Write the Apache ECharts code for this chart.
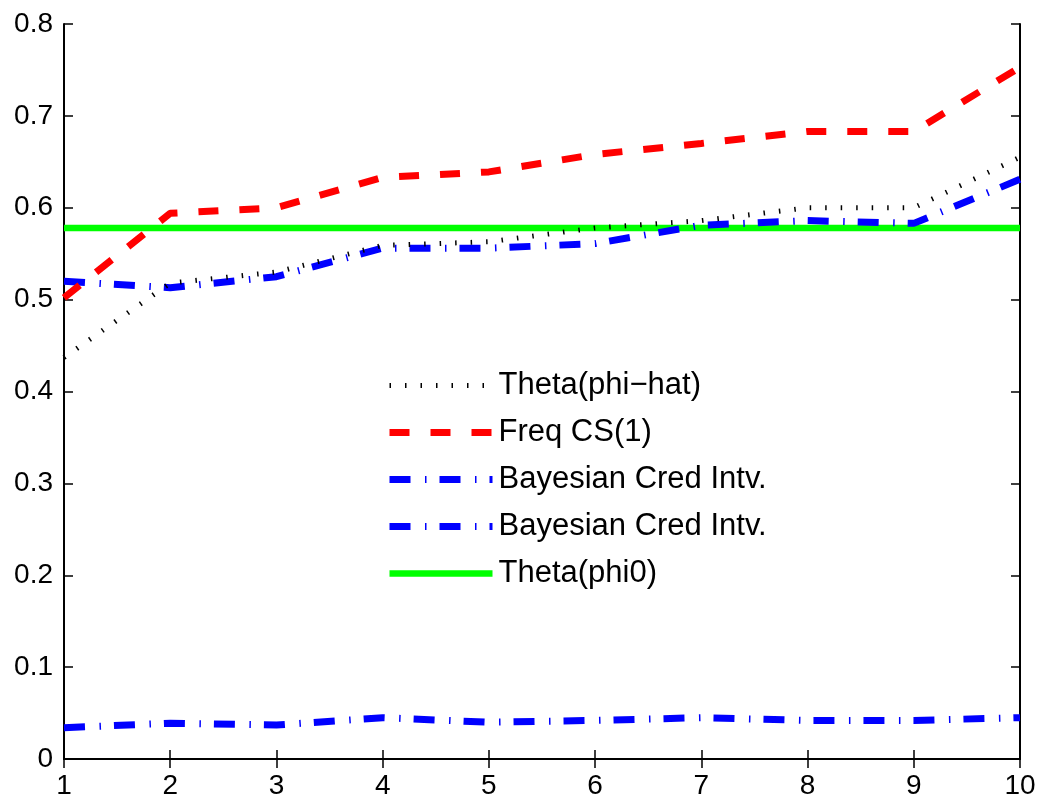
<!DOCTYPE html>
<html>
<head>
<meta charset="utf-8">
<script src="https://cdn.jsdelivr.net/npm/echarts@6/dist/echarts.min.js"></script>
<style>html,body{margin:0;padding:0;background:#fff}#c{width:1042px;height:800px}</style>
</head>
<body>
<div id="c"></div>
<script>
const xValues = [1, 2, 3, 4, 5, 6, 7, 8, 9, 10];
const thetaHat = [0.437, 0.518, 0.530, 0.559, 0.563, 0.578, 0.586, 0.600, 0.600, 0.655];
const freqCS = [0.502, 0.594, 0.600, 0.633, 0.639, 0.658, 0.670, 0.683, 0.683, 0.753];
const bayesUpper = [0.520, 0.513, 0.525, 0.556, 0.556, 0.561, 0.581, 0.586, 0.583, 0.631];
const bayesLower = [0.034, 0.039, 0.037, 0.045, 0.040, 0.042, 0.045, 0.042, 0.042, 0.045];
const theta0 = 0.578;
const yTicks = ['0', '0.1', '0.2', '0.3', '0.4', '0.5', '0.6', '0.7', '0.8'];
const legendNames = {
  hat: 'Theta(phi\u2212hat)',
  freq: 'Freq CS(1)',
  bu: 'Bayesian Cred Intv.',
  bl: 'Bayesian Cred Intv.',
  t0: 'Theta(phi0)'
};

const pairs = arr => xValues.map((x, i) => [x, arr[i]]);
const font = 'Liberation Sans, Arial, sans-serif';
const styles = {
  hat: {color: '#000000', width: 5, type: [1.5, 14], cap: 'butt'},
  freq: {color: '#ff0000', width: 7, type: [20, 21], cap: 'butt'},
  bu: {color: '#0000ff', width: 7, type: [21, 14.5, 1.5, 13], cap: 'butt'},
  bl: {color: '#0000ff', width: 7, type: [21, 14.5, 1.5, 13], cap: 'butt'},
  t0: {color: '#00ff00', width: 6.5, type: 'solid', cap: 'butt'}
};

const chart = echarts.init(document.getElementById('c'), null, {renderer: 'canvas'});
const axisCommon = () => ({
  axisLine: {show: true, lineStyle: {color: '#000', width: 2}},
  splitLine: {show: false},
  axisTick: {show: true, inside: true, length: 9, lineStyle: {color: '#000', width: 1.5}}
});
const legendKeys = ['hat', 'freq', 'bu', 'bl', 't0'];
const seriesData = {hat: thetaHat, freq: freqCS, bu: bayesUpper, bl: bayesLower,
  t0: xValues.map(() => theta0)};

chart.setOption({
  animation: false,
  backgroundColor: '#fff',
  grid: {left: 64, right: 22, top: 24, bottom: 39, containLabel: false},
  xAxis: [
    Object.assign({type: 'value', min: 1, max: 10, interval: 1, position: 'bottom',
      axisLabel: {color: '#000', fontSize: 28, fontFamily: font, margin: 13}}, axisCommon()),
    Object.assign({type: 'value', min: 1, max: 10, interval: 1, position: 'top',
      axisLabel: {show: false}}, axisCommon())
  ],
  yAxis: [
    Object.assign({type: 'value', min: 0, max: 0.8, interval: 0.1, position: 'left',
      axisLabel: {color: '#000', fontSize: 28, fontFamily: font, margin: 11,
        formatter: v => yTicks[Math.round(v * 10)]}}, axisCommon()),
    Object.assign({type: 'value', min: 0, max: 0.8, interval: 0.1, position: 'right',
      axisLabel: {show: false}}, axisCommon())
  ],
  legend: {
    orient: 'vertical', left: 386, top: 370,
    itemWidth: 103, itemHeight: 30, itemGap: 16,
    backgroundColor: 'transparent', borderWidth: 0, padding: 0,
    textStyle: {color: '#000', fontSize: 31, lineHeight: 30, fontFamily: font, padding: [0, 0, 0, 1]},
    itemStyle: {opacity: 0},
    data: legendKeys.map(k => ({name: k, itemStyle: {opacity: 0}, lineStyle: styles[k]})),
    formatter: n => legendNames[n],
    selectedMode: false
  },
  series: legendKeys.map((k, i) => ({
    name: k, type: 'line', data: pairs(seriesData[k]), symbol: 'none', showSymbol: false,
    lineStyle: styles[k], itemStyle: {color: styles[k].color},
    z: [5, 4, 3, 3, 2][i]
  }))
});
</script>
</body>
</html>
